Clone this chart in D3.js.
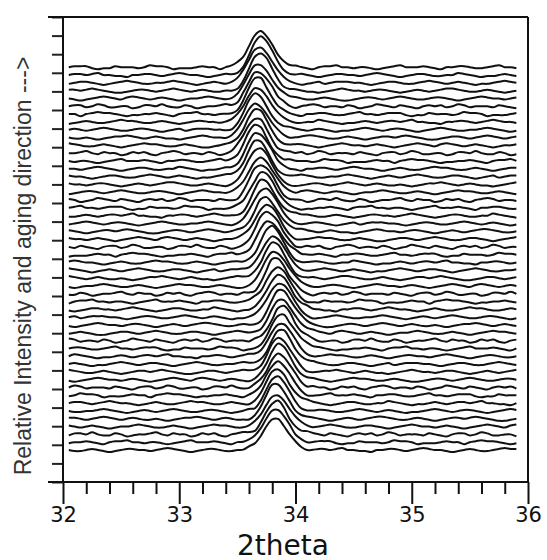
<!DOCTYPE html>
<html>
<head>
<meta charset="utf-8">
<script src="https://cdn.jsdelivr.net/npm/d3@7"></script>
<style>
  body { margin: 0; background: #fff; }
</style>
</head>
<body>
<script>
/**
 * Stacked 2theta scans (waterfall)
 */

// Dimensions
const W = 547, H = 560;
const margin = { top: 17, right: 19, bottom: 78, left: 63 };
const FIG_WIDTH  = W - margin.left - margin.right;
const FIG_HEIGHT = H - margin.top - margin.bottom;

// Axis values
const X_TICKS       = [32, 33, 34, 35, 36];
const X_MINOR_TICKS = [32.2, 32.4, 32.6, 32.8, 33.2, 33.4, 33.6, 33.8,
                       34.2, 34.4, 34.6, 34.8, 35.2, 35.4, 35.6, 35.8];
const Y_TICKS       = d3.range(0, 26);

// Scan grid (2theta, deg)
const TWO_THETA = d3.range(0, 78).map(k => +(32.05 + 0.05 * k).toFixed(2));

// Peak centre per scan, top (first) to bottom (last)
const PEAK_CENTER = [
  33.70, 33.70, 33.69, 33.69, 33.68, 33.68, 33.67, 33.67, 33.66, 33.66,
  33.66, 33.66, 33.66, 33.67, 33.67, 33.68, 33.69, 33.70, 33.71, 33.72,
  33.73, 33.74, 33.75, 33.76, 33.77, 33.79, 33.80, 33.81, 33.82, 33.83,
  33.84, 33.85, 33.86, 33.87, 33.88, 33.88, 33.88, 33.87, 33.87, 33.86,
  33.86, 33.85, 33.85, 33.84, 33.84, 33.83, 33.83, 33.83, 33.82, 33.82
];

// Peak height per scan (relative units)
const PEAK_HEIGHT = [
  2.00, 1.98, 1.96, 1.95, 1.94, 1.93, 1.92, 1.92, 1.91, 1.90,
  1.90, 1.90, 1.90, 1.91, 1.92, 1.92, 1.93, 1.93, 1.92, 1.92,
  1.91, 1.90, 1.90, 1.90, 1.89, 1.88, 1.88, 1.88, 1.87, 1.87,
  1.86, 1.86, 1.86, 1.86, 1.85, 1.85, 1.85, 1.85, 1.84, 1.84,
  1.84, 1.83, 1.83, 1.82, 1.82, 1.82, 1.81, 1.80, 1.80, 1.80
];

// Peak widths (deg), left / right side
const SIGMA_L = 0.09;
const SIGMA_R = 0.105;

// Baseline wiggle, estimated by eye (1 step = NOISE_UNIT)
const NOISE = [
  [0,1,1,1,-1,-2,-1,-1,1,0,0,0,-1,0,2,1,1,0,-2,-1,-1,-1,0,1,0,0,-2,0,1,2,1,1,0,-1,-2,-1,-1,0,0,1,0,-1,-2,0,1,1,2,0,0,-1,0,0,-1,-2,-1,0,1,2,0,0,0,1,0,-1,-2,0,0,1,1,0,-1,-1,0,1,2,0,0,-1],
  [1,0,-1,-1,0,0,2,1,0,-1,-2,-1,-1,0,1,0,-1,0,1,1,0,1,2,0,0,-1,-1,-2,0,0,1,1,0,-1,0,1,2,1,0,0,-1,-2,-1,0,1,0,-1,-1,0,1,2,1,1,0,-1,-1,0,1,0,-1,-2,-1,0,1,1,0,0,-1,0,1,2,1,0,-1,-2,-1,0,1],
  [-1,0,1,1,1,0,0,-1,-2,-1,0,1,1,0,-1,-1,0,1,2,1,0,-1,0,1,0,-1,-2,-1,-1,0,1,2,1,0,-1,0,1,1,0,-1,-2,-1,0,1,2,1,0,-1,-1,0,0,1,2,1,0,-1,-2,-1,0,1,0,-1,0,1,2,1,0,-1,-1,0,1,1,0,-1,-2,-1,0,1],
  [0,-1,-2,-1,0,1,1,2,1,0,-1,0,1,0,-1,-1,-2,-1,0,1,2,1,0,0,-1,0,1,1,0,-1,-2,-1,0,1,0,-1,0,1,2,2,1,0,-1,-1,0,1,0,-1,-2,-1,0,1,1,0,1,2,1,0,-1,-2,-2,-1,0,1,1,0,-1,0,1,2,1,0,-1,0,1,0,-1,-1],
  [1,2,1,0,-1,0,1,0,-1,-2,-1,0,0,1,2,1,0,-1,-1,0,1,0,-1,-2,-1,0,1,2,1,1,0,-1,-1,0,1,0,-1,-2,-2,-1,0,1,1,0,-1,0,1,2,1,0,-1,-1,0,1,1,0,-1,-2,-1,0,1,2,1,0,0,-1,0,1,0,-1,-2,-1,0,1,2,1,0,-1],
  [0,0,-1,1,0,-1,-2,0,1,1,-1,0,2,1,-1,-1,0,0,-2,-1,1,1,0,2,0,-1,-1,1,0,-2,-1,0,0,1,2,0,-1,1,0,0,-2,-1,1,0,1,-1,-2,0,1,2,1,-1,0,0,-1,1,0,-2,-1,0,2,1,0,-1,1,0,-1,-2,0,1,0,1,-1,0,2,1,-1,0]
];
const NOISE_UNIT = 0.055;

// Stacking
const BASE_TOP    = 22.3;
const OFFSET_STEP = 0.42;

// Colors
const BG = '#ffffff';
const FG = '#111111';


// SCALES
const x = d3.scaleLinear()
  .domain([32, 36])
  .range([0, FIG_WIDTH]);

const y = d3.scaleLinear()
  .domain([0, 25])
  .range([FIG_HEIGHT, 0]);


// SVG
const svg = d3.select("body").append("svg")
  .attr("width", W)
  .attr("height", H);

svg.append('rect')
  .attr('width', W)
  .attr('height', H)
  .attr('fill', BG);

const g = svg.append("g")
  .attr("transform", `translate(${margin.left},${margin.top})`);


// Scans, back (top) to front (bottom)
const scans = PEAK_CENTER.map((c, i) => {
  const base  = BASE_TOP - i * OFFSET_STEP;
  const row   = NOISE[i % NOISE.length];
  const shift = (i * 17) % row.length;
  return {
    base,
    pts: TWO_THETA.map((t, k) => {
      const d = t - c;
      const s = d < 0 ? SIGMA_L : SIGMA_R;
      const peak = PEAK_HEIGHT[i] * Math.exp(-(d * d) / (2 * s * s));
      return [t, base + peak + NOISE_UNIT * row[(k + shift) % row.length]];
    })
  };
});

const area = d3.area()
  .x(d => x(d[0]))
  .y1(d => y(d[1]))
  .curve(d3.curveCatmullRom);

const line = d3.line()
  .x(d => x(d[0]))
  .y(d => y(d[1]))
  .curve(d3.curveCatmullRom);

const traces = g.append("g").attr("class", "scans");
scans.forEach(s => {
  traces.append("path")
    .attr("d", area.y0(y(s.base - 0.25))(s.pts))
    .attr("fill", BG);
  traces.append("path")
    .attr("d", line(s.pts))
    .attr("fill", "none")
    .attr("stroke", FG)
    .attr("stroke-width", 2)
    .attr("stroke-linejoin", "round");
});


// Axes
const xAxis = g => {
  g
    .attr("transform", `translate(0,${FIG_HEIGHT})`)
    .call(d3.axisBottom(x).tickValues(X_TICKS).tickSize(22).tickPadding(3).tickFormat(d3.format("d")))
    .attr("font-family", "'DejaVu Sans', sans-serif")
    .attr("font-size", "21px")
    .call(g => g.select(".domain").remove())
    .call(g => g.selectAll("line").attr("stroke", FG).attr("stroke-width", 2))
    .call(g => g.selectAll("text").attr("fill", FG));
}
const xAxisMinor = g => {
  g
    .attr("transform", `translate(0,${FIG_HEIGHT})`)
    .call(d3.axisBottom(x).tickValues(X_MINOR_TICKS).tickSize(12).tickFormat(""))
    .call(g => g.select(".domain").remove())
    .call(g => g.selectAll("line").attr("stroke", FG).attr("stroke-width", 2));
}
const yAxis = g => {
  g
    .call(d3.axisLeft(y).tickValues(Y_TICKS).tickSize(11).tickFormat(""))
    .call(g => g.select(".domain").remove())
    .call(g => g.selectAll("line").attr("stroke", "#222").attr("stroke-width", 2));
}

g.append("g").call(xAxis);
g.append("g").call(xAxisMinor);
g.append("g").call(yAxis);

// Frame
const frame = g.append("g")
  .attr("stroke", FG)
  .attr("stroke-width", 2)
  .attr("fill", "none");
frame.append("line").attr("x1", -15).attr("x2", FIG_WIDTH).attr("y1", 0).attr("y2", 0);
frame.append("line").attr("x1", -15).attr("x2", FIG_WIDTH).attr("y1", FIG_HEIGHT).attr("y2", FIG_HEIGHT);
frame.append("line").attr("x1", 0).attr("x2", 0).attr("y1", 0).attr("y2", FIG_HEIGHT);
frame.append("line").attr("x1", FIG_WIDTH).attr("x2", FIG_WIDTH).attr("y1", 0).attr("y2", FIG_HEIGHT);


// Titles
svg.append('text')
  .attr('x', 283)
  .attr('y', 554.5)
  .attr('text-anchor', 'middle')
  .attr('font-family', "'DejaVu Sans', sans-serif")
  .attr('font-size', '28px')
  .attr('fill', FG)
  .text('2theta');

svg.append('text')
  .attr('transform', 'translate(31,266) rotate(-90)')
  .attr('text-anchor', 'middle')
  .attr('font-family', "'Liberation Sans', Arial, sans-serif")
  .attr('font-size', '23px')
  .attr('fill', '#333')
  .text('Relative Intensity and aging direction --->');
</script>
</body>
</html>
